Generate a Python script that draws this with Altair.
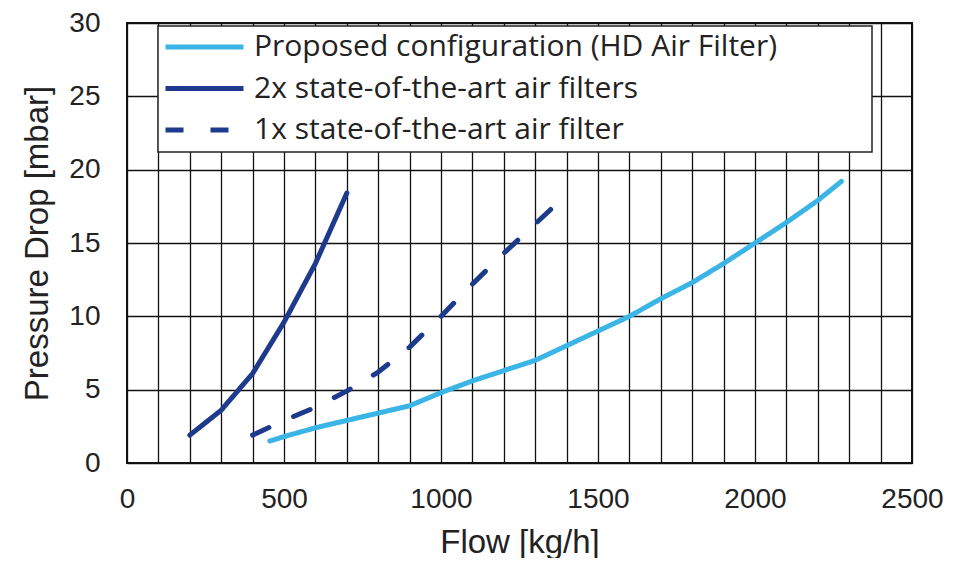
import altair as alt
import pandas as pd

# ---- data ----
series_names = [
    "Proposed configuration (HD Air Filter)",
    "2x state-of-the-art air filters",
    "1x state-of-the-art air filter",
]
series_colors = ["#3BB4E6", "#1E3A8C", "#1E3A8C"]

proposed_flow = [455, 500, 600, 700, 800, 900, 1000, 1100, 1200, 1300, 1400,
                 1500, 1600, 1700, 1800, 1900, 2000, 2100, 2200, 2275]
proposed_dp = [1.5, 1.8, 2.4, 2.9, 3.4, 3.9, 4.8, 5.6, 6.3, 7.0, 8.0,
               9.0, 10.0, 11.2, 12.3, 13.6, 15.0, 16.4, 17.9, 19.2]

two_flow = [200, 300, 400, 500, 600, 700]
two_dp = [1.9, 3.6, 6.1, 9.6, 13.6, 18.4]

one_flow = [400, 500, 600, 700, 800, 900, 1000, 1100, 1200, 1300, 1350]
one_dp = [1.9, 2.9, 3.8, 4.9, 6.2, 7.9, 10.0, 12.2, 14.3, 16.3, 17.3]

x_ticks = list(range(0, 2501, 100))
y_ticks = [0, 5, 10, 15, 20, 25, 30]

rows = []
for name, fl, dp in zip(series_names,
                        [proposed_flow, two_flow, one_flow],
                        [proposed_dp, two_dp, one_dp]):
    for i, (f, d) in enumerate(zip(fl, dp)):
        rows.append({"series": name, "flow": f, "dp": d, "i": i})
df = pd.DataFrame(rows)

legend = alt.Legend(
    title=None,
    orient="none",
    legendX=36,
    legendY=4,
    symbolType="stroke",
    symbolSize=6084,
    symbolStrokeWidth=5,
    clipHeight=40,
    labelFont="Open Sans",
    labelFontSize=30,
    labelColor="#222222",
    labelOffset=8,
    labelLimit=800,
    rowPadding=1.5,
    padding=0,
)

lines = alt.Chart(df).mark_line(strokeWidth=5, strokeCap="round", strokeJoin="round").encode(
    x=alt.X("flow:Q",
            scale=alt.Scale(domain=[0, 2500], nice=False, zero=True),
            axis=alt.Axis(values=x_ticks, format="d", labelFlush=False,
                          labelExpr="datum.value % 500 == 0 ? datum.label : ''",
                          title="Flow [kg/h]", labelPadding=22, titlePadding=13)),
    y=alt.Y("dp:Q",
            scale=alt.Scale(domain=[0, 30], nice=False),
            axis=alt.Axis(values=y_ticks, title="Pressure Drop [mbar]",
                          labelPadding=27, titlePadding=14)),
    color=alt.Color("series:N", sort=series_names,
                    scale=alt.Scale(domain=series_names, range=series_colors),
                    legend=legend),
    strokeDash=alt.StrokeDash("series:N", sort=series_names,
                              scale=alt.Scale(domain=series_names,
                                              range=[[1, 0], [1, 0], [18, 27]]),
                              legend=legend),
    order="i:Q",
)

legend_box = alt.Chart(pd.DataFrame({"k": [0]})).mark_rect(
    fill="white", stroke="#222222", strokeWidth=1.5
).encode(
    x=alt.value(31), x2=alt.value(745), y=alt.value(3), y2=alt.value(129)
)

chart = alt.layer(lines, legend_box).properties(
    width=785, height=440,
    autosize=alt.AutoSizeParams(type="none"),
    padding={"left": 119, "top": 15, "right": 40, "bottom": 95},
).configure_view(
    stroke="#111111", strokeWidth=2
).configure_axis(
    grid=True, gridColor="#111111", gridWidth=1.3, gridOpacity=1,
    domain=False, ticks=False, tickSize=0,
    labelFont="Liberation Sans", labelFontSize=28, labelColor="#222222",
    titleFont="Liberation Sans", titleFontSize=33, titleColor="#222222",
    titleFontWeight="normal",
)

chart.save("out.html", embed_options={"renderer": "svg", "actions": False})
